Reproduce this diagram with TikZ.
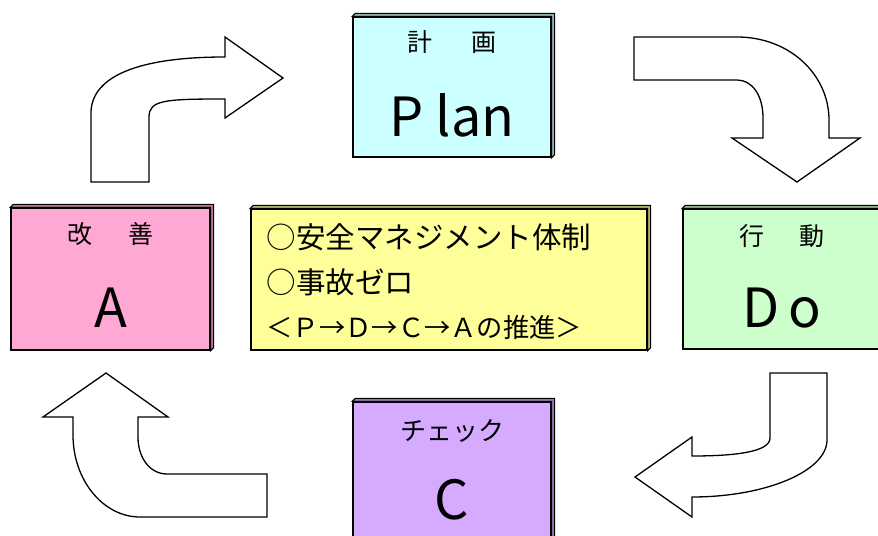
\documentclass[tikz,border=0pt]{standalone}
\usepackage{fontspec}
\setmainfont{Noto Sans CJK JP}[Kerning=Off]
\usetikzlibrary{calc}
\definecolor{planfill}{RGB}{204,255,255}
\definecolor{actfill}{RGB}{255,168,212}
\definecolor{memofill}{RGB}{255,255,153}
\definecolor{dofill}{RGB}{204,255,204}
\definecolor{checkfill}{RGB}{214,170,255}
\begin{document}
\begin{tikzpicture}[
        x=1bp, y=-1bp,
        every node/.style={inner sep=0pt},
        box/.style={draw, line width=1.4bp, minimum width=198bp, minimum height=140bp},
        title/.style={font=\fontsize{25bp}{28bp}\selectfont},
        letter/.style={font=\fontsize{54bp}{58bp}\selectfont},
        memo/.style={anchor=west, font=\fontsize{29.5bp}{32bp}\selectfont},
        turn/.style={draw, fill=white, line width=1.3bp, line join=miter},
    ]
    \useasboundingbox (0,0) rectangle (878,536);
    \clip (0,0) rectangle (878,536);

    % the five boxes
    \node[box, fill=planfill] (plan) at (452,87) {};
    \node[box, fill=actfill, minimum width=199bp, minimum height=142bp] (act) at (110.5,279) {};
    \node[box, fill=memofill, minimum width=396bp, minimum height=141bp] (memo) at (449,279.5) {};
    \node[box, fill=dofill] (do) at (782,279) {};
    \node[box, fill=checkfill] (check) at (452,472) {};

    % raised edge
    \foreach \n/\c in {plan/planfill, act/actfill, memo/memofill, do/dofill, check/checkfill}
        \filldraw[fill=\c!70!black, draw=black, line width=1bp]
            (\n.north west) -- ++(3,-3) -- ($(\n.north east)+(3,-3)$)
            -- ($(\n.south east)+(3,-3)$) -- (\n.south east) -- (\n.north east) -- cycle;

    % texts
    \node[title] (plantitle) at ([yshift=-26bp]plan.north) {計\hspace{40bp}画};
    \node[letter] (planletter) at ([yshift=-28bp]plan.center) {P lan};
    \node[title] (acttitle) at ([yshift=-27bp]act.north) {改\hspace{37bp}善};
    \node[letter] (actletter) at ([yshift=-29bp]act.center) {A};
    \node[title] (dotitle) at ([yshift=-28bp]do.north) {行\hspace{36bp}動};
    \node[letter] (doletter) at ([yshift=-29bp]do.center) {D\,o};
    \node[title, font=\fontsize{26bp}{29bp}\selectfont] (checktitle) at ([yshift=-30bp]check.north) {チェック};
    \node[letter] (checkletter) at ([yshift=-28bp]check.center) {C};

    \node[memo] (memo1) at ([xshift=16bp, yshift=-29bp]memo.north west) {○安全マネジメント体制};
    \node[memo] (memo2) at ([xshift=16bp, yshift=-74bp]memo.north west) {○事故ゼロ};
    \node[memo, font=\fontsize{26.3bp}{30bp}\selectfont] (memo3) at ([xshift=16bp, yshift=-119bp]memo.north west) {＜Ｐ→Ｄ→Ｃ→Ａの推進＞};

    % turning arrows
    \draw[turn] (91,182) -- (91,113) .. controls (91,80) and (130,57) .. (225,57)
        -- (225,37) -- (283,78) -- (225,118) -- (225,99)
        .. controls (165,99) and (149,100) .. (149,117) -- (149,182) -- cycle;
    \draw[turn] (634,37) -- (737,37) .. controls (790,37) and (829,75) .. (829,120)
        -- (829,138) -- (860,138) -- (797,182) -- (732,138) -- (763,138) -- (763,118)
        .. controls (763,95) and (752,80) .. (737,80) -- (634,80) -- cycle;
    \draw[turn] (770,373) -- (827,373) -- (827,440) .. controls (827,471) and (766,497) .. (692,497)
        -- (692,517) -- (635,477) -- (692,437) -- (692,456)
        .. controls (735,456) and (770,452) .. (770,438) -- cycle;
    \draw[turn] (106,373) -- (168,417) -- (138,417) -- (138,437)
        .. controls (138,458) and (150,474) .. (167,474) -- (267,474) -- (267,517)
        -- (140,517) .. controls (103,517) and (73,480) .. (73,435) -- (73,417) -- (43,417) -- cycle;
\end{tikzpicture}
\end{document}
